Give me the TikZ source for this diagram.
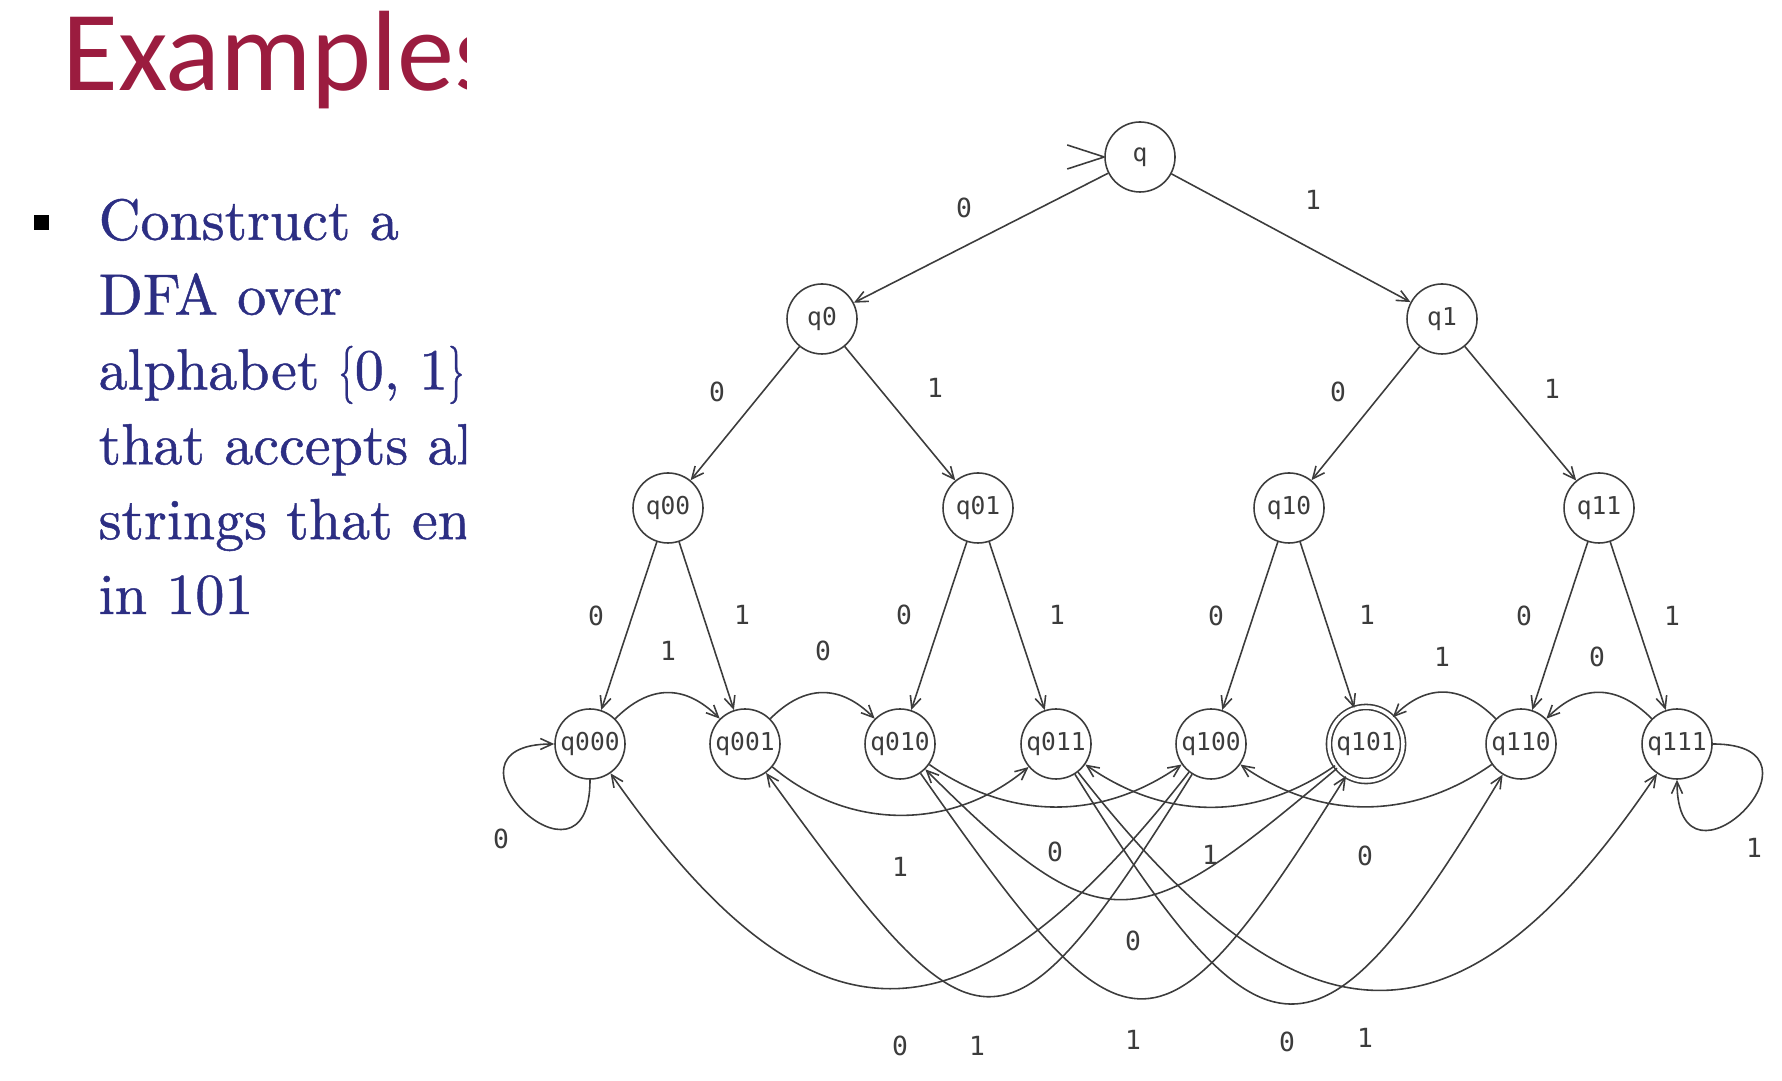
\documentclass[tikz,border=0pt]{standalone}
\usepackage{fontspec}
\usepackage{tikz}
\usetikzlibrary{arrows.meta}
\newfontfamily\headfont{Carlito}
\newfontfamily\statefont{DejaVu Sans Mono}
\newfontfamily\taskfont{lmroman10-regular}[Extension=.otf, FakeBold=0.8]
\newcommand{\narrow}[1]{\scalebox{0.55}[1]{#1}}
\definecolor{headred}{RGB}{155,28,63}
\definecolor{taskblue}{RGB}{44,46,131}
\definecolor{edgegray}{RGB}{60,60,60}

\tikzset{
  state/.style={circle, draw=edgegray, line width=0.45pt, minimum size=7mm, inner sep=0pt,
    text=edgegray, font=\statefont\fontsize{7}{8}\selectfont},
  accepting/.style={minimum size=7.4mm, double=white, double distance=1pt},
  arr/.style={draw=edgegray, line width=0.45pt, -{Straight Barb[length=1.2mm,width=1.1mm]}},
  lbl/.style={inner sep=0pt, text=edgegray, font=\statefont\fontsize{7.5}{8}\selectfont},
}

\begin{document}
\begin{tikzpicture}
    \useasboundingbox (0,0) rectangle (17.82,10.8);
    % slide text, cut off at the right
    \begin{scope}
      \clip (0,0) rectangle (4.66,10.8);
      \node[anchor=base west, inner sep=0pt, text=headred, font=\headfont\fontsize{32.5}{36}\selectfont] (title) at (0.62,9.89) {Examples};
      % base anchor sits on the last line
      \node[anchor=base west, inner sep=0pt, align=left, text=taskblue,
        font=\taskfont\fontsize{16.5}{21.3}\selectfont] (task) at (0.98,4.66)
        {Construct a\\DFA over\\alphabet \narrow{\{}0, 1\narrow{\}}\\that accepts al\\strings that en\\in 101};
    \end{scope}
    \node[fill=black, minimum size=1.5mm, inner sep=0pt] (bullet) at (0.415,8.57) {};

    % states
    \node[state] (q) at (11.40,9.23) {q};
    \node[state] (q0) at (8.22,7.61) {q0};
    \node[state] (q1) at (14.42,7.61) {q1};
    \node[state] (q00) at (6.68,5.72) {q00};
    \node[state] (q01) at (9.78,5.72) {q01};
    \node[state] (q10) at (12.89,5.72) {q10};
    \node[state] (q11) at (15.99,5.72) {q11};
    \node[state] (q000) at (5.90,3.36) {q000};
    \node[state] (q001) at (7.45,3.36) {q001};
    \node[state] (q010) at (9.00,3.36) {q010};
    \node[state] (q011) at (10.56,3.36) {q011};
    \node[state] (q100) at (12.11,3.36) {q100};
    \node[state,accepting] (q101) at (13.66,3.36) {q101};
    \node[state] (q110) at (15.21,3.36) {q110};
    \node[state] (q111) at (16.77,3.36) {q111};

    % start marker
    \draw[edgegray, line width=0.45pt] (q.west) -- ++(-0.37,0.12) (q.west) -- ++(-0.37,-0.12);

    % tree part
    \draw[arr] (q) -- (q0) node[lbl] (e1) at (9.64,8.72) {0};
    \draw[arr] (q) -- (q1) node[lbl] (e2) at (13.13,8.80) {1};
    \draw[arr] (q0) -- (q00) node[lbl] (e3) at (7.17,6.88) {0};
    \draw[arr] (q0) -- (q01) node[lbl] (e4) at (9.35,6.92) {1};
    \draw[arr] (q1) -- (q10) node[lbl] (e5) at (13.38,6.88) {0};
    \draw[arr] (q1) -- (q11) node[lbl] (e6) at (15.52,6.91) {1};
    \draw[arr] (q00) -- (q000) node[lbl] (e7) at (5.96,4.64) {0};
    \draw[arr] (q00) -- (q001) node[lbl] (e8) at (7.42,4.65) {1};
    \draw[arr] (q01) -- (q010) node[lbl] (e9) at (9.04,4.65) {0};
    \draw[arr] (q01) -- (q011) node[lbl] (e10) at (10.57,4.65) {1};
    \draw[arr] (q10) -- (q100) node[lbl] (e11) at (12.16,4.64) {0};
    \draw[arr] (q10) -- (q101) node[lbl] (e12) at (13.67,4.65) {1};
    \draw[arr] (q11) -- (q110) node[lbl] (e13) at (15.24,4.64) {0};
    \draw[arr] (q11) -- (q111) node[lbl] (e14) at (16.72,4.64) {1};

    % loops
    \draw[arr] (q000) to[out=-90,in=180,min distance=13mm] (q000) node[lbl] (e15) at (5.01,2.41) {0};
    \draw[arr] (q111) to[out=0,in=-90,min distance=13mm] (q111) node[lbl] (e16) at (17.54,2.32) {1};

    % neighbours, above
    \draw[arr] (q000) to[out=45,in=135,looseness=1.2] (q001) node[lbl] (e17) at (6.68,4.29) {1};
    \draw[arr] (q001) to[out=45,in=135,looseness=1.2] (q010) node[lbl] (e18) at (8.23,4.29) {0};
    \draw[arr] (q110) to[out=135,in=45,looseness=1.2] (q101) node[lbl] (e19) at (14.42,4.23) {1};
    \draw[arr] (q111) to[out=135,in=45,looseness=1.2] (q110) node[lbl] (e20) at (15.97,4.23) {0};

    % short arcs below
    \draw[arr] (q001) to[out=-40,in=-140] (q011) node[lbl] (e21) at (9.00,2.13) {1};
    \draw[arr] (q010) to[out=-35,in=-145] (q100) node[lbl] (e22) at (10.55,2.28) {0};
    \draw[arr] (q101) to[out=-145,in=-35] (q011) node[lbl] (e23) at (12.10,2.25) {1};
    \draw[arr] (q110) to[out=-145,in=-35] (q100) node[lbl] (e24) at (13.65,2.24) {0};

    % long arcs below
    \draw[arr] (q101) to[out=-140,in=-45,looseness=1.6] (q010) node[lbl] (e25) at (11.33,1.39) {0};
    \draw[arr] (q010) to[out=-55,in=-122,looseness=2.15] (q101) node[lbl] (e26) at (11.33,0.40) {1};
    \draw[arr] (q011) to[out=-58,in=-121,looseness=2.15] (q110) node[lbl] (e27) at (12.87,0.38) {0};
    \draw[arr] (q011) to[out=-52,in=-124,looseness=1.58] (q111) node[lbl] (e28) at (13.65,0.42) {1};
    \draw[arr] (q100) to[out=-122,in=-54,looseness=2.15] (q001) node[lbl] (e29) at (9.77,0.34) {1};
    \draw[arr] (q100) to[out=-128,in=-55,looseness=1.58] (q000) node[lbl] (e30) at (9.00,0.34) {0};
\end{tikzpicture}
\end{document}
